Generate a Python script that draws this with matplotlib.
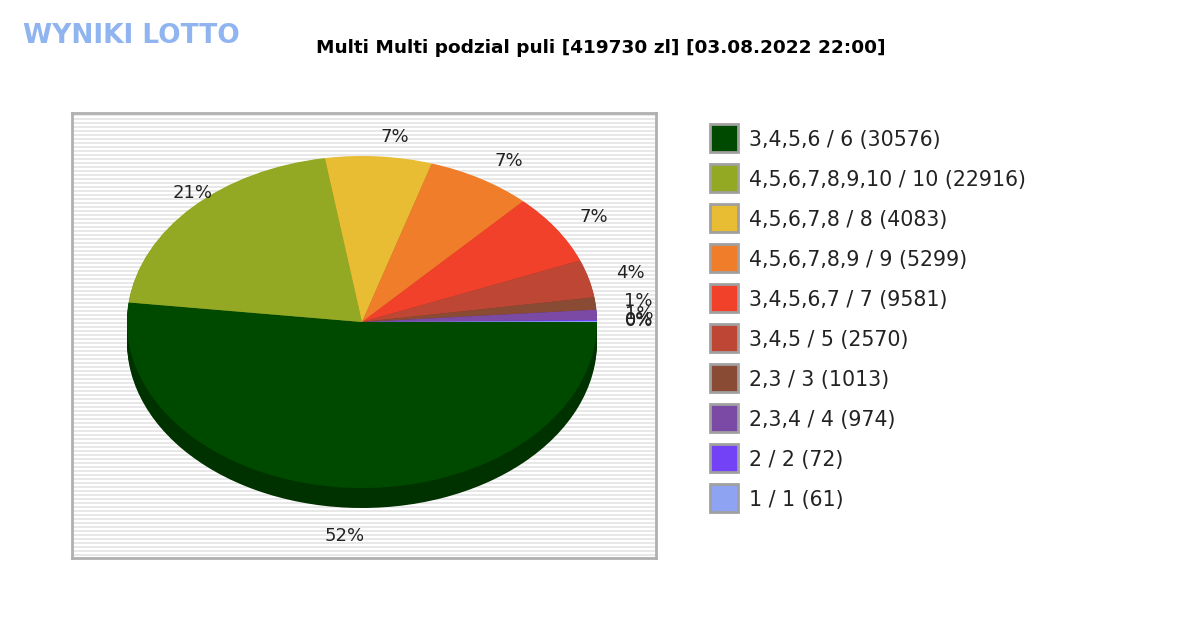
import matplotlib
matplotlib.use("Agg")
import matplotlib.pyplot as plt
from matplotlib.patches import Rectangle
import numpy as np

title = "Multi Multi podzial puli [419730 zl] [03.08.2022 22:00]"
legend_labels = ["3,4,5,6 / 6 (30576)", "4,5,6,7,8,9,10 / 10 (22916)", "4,5,6,7,8 / 8 (4083)",
                 "4,5,6,7,8,9 / 9 (5299)", "3,4,5,6,7 / 7 (9581)", "3,4,5 / 5 (2570)",
                 "2,3 / 3 (1013)", "2,3,4 / 4 (974)", "2 / 2 (72)", "1 / 1 (61)"]
shares = [52.4, 20.8, 7.4, 7.3, 7.0, 3.7, 1.2, 1.0, 0.1, 0.1]
pct_labels = ["52%", "21%", "7%", "7%", "7%", "4%", "1%", "1%", "0%", "0%"]
colors = ["#004a00", "#94a923", "#e9bd33", "#ef7d2a", "#f1412a", "#bd4634",
          "#8a4b35", "#7b4aa5", "#7342f7", "#8ea4f2"]
dark = ["#003200", "#6a7a18", "#a88a22", "#b05a1e", "#b02e1e", "#8a3226",
        "#643626", "#583577", "#5230b0", "#6676b0"]

W, H = 1200, 630
fig = plt.figure(figsize=(12, 6.3), dpi=100)
fig.patch.set_facecolor("white")

bx0, bx1, by0, by1 = 72, 656, 113, 558
k = 235 / 166.0
ax = fig.add_axes([bx0 / W, 1 - by1 / H, (bx1 - bx0) / W, (by1 - by0) / H])

cx, cy = 362, (H - 322) * k
depth = 20 * k
for d in np.linspace(depth, 1, 12):
    ax.pie(shares, colors=dark, startangle=0, counterclock=False, radius=235,
           center=(cx, cy - d), frame=True, wedgeprops=dict(linewidth=0))
wedges, texts = ax.pie(shares, colors=colors, startangle=0, counterclock=False, radius=235,
                       center=(cx, cy), frame=True, labels=pct_labels, labeldistance=1.12,
                       textprops=dict(fontsize=13, color="#222222"),
                       wedgeprops=dict(linewidth=0))
x0, y0 = texts[0].get_position()
texts[0].set_position((x0 - 22, y0 - 28 * k))
ax.set_aspect("auto")
ax.set_xlim(bx0, bx1)
ax.set_ylim((H - by1) * k, (H - by0) * k)
ax.set_xticks([]); ax.set_yticks([])
ax.set_facecolor("white")
for y in np.arange(by0 + 2, by1, 4):
    ax.axhline((H - y) * k, color="#e4e4e4", lw=1.2, zorder=0)
for s in ax.spines.values():
    s.set_color("#b0b0b0"); s.set_linewidth(2)

for i, (lab, c) in enumerate(zip(legend_labels, colors)):
    y = 138 + 40 * i
    fig.patches.append(Rectangle((710 / W, 1 - (y + 14) / H), 28 / W, 28 / H,
                                 transform=fig.transFigure, facecolor=c,
                                 edgecolor="#a0a0a0", linewidth=2))
    fig.text(749 / W, 1 - (y + 2) / H, lab, fontsize=14.8, va="center", ha="left", color="#222222")

fig.text(601 / W, 1 - 48 / H, title, fontsize=13.3, fontweight="bold", ha="center", va="center")
fig.text(131 / W, 1 - 36 / H, "WYNIKI LOTTO", fontsize=19, fontweight="bold", ha="center",
         va="center", color="#8fb4f0", family="DejaVu Sans")

fig.savefig("out.png", dpi=100)
